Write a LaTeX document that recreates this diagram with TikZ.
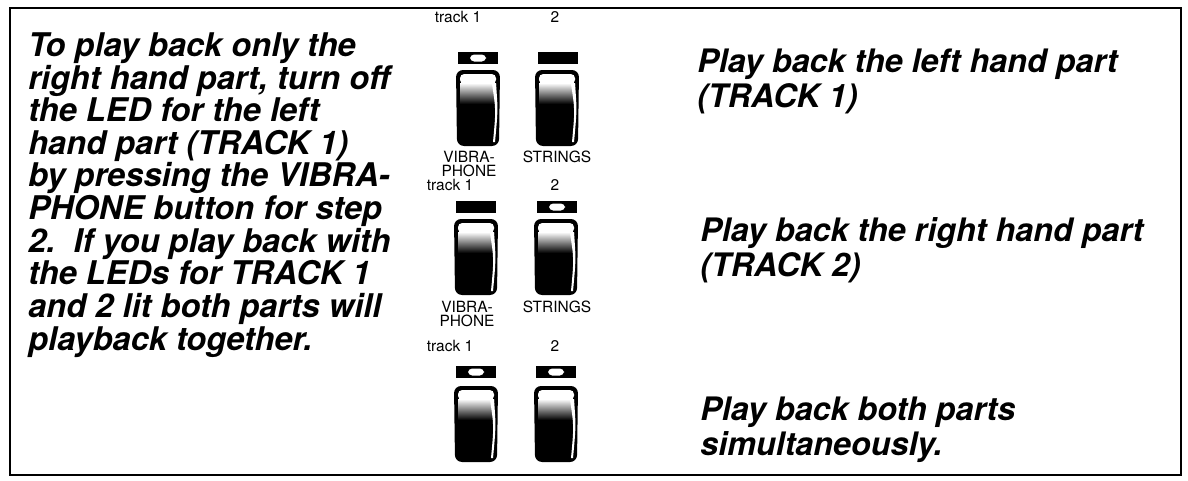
\documentclass[tikz,border=0pt]{standalone}
\usepackage{fontspec}
\setmainfont{TeX Gyre Heros}
\tikzset{
  say/.style={anchor=base west,align=left,inner sep=0pt,
    font=\fontsize{23.2}{23.2}\selectfont\bfseries\itshape},
  sayr/.style={say,font=\fontsize{23}{24.2}\selectfont\bfseries\itshape},
  tag/.style={anchor=base,inner sep=0pt,font=\fontsize{11}{12}\selectfont},
  pbutton/.pic={
    \fill[black,rounded corners=5] (-22,0) -- (22,0) -- (21,76) -- (-21,76) -- cycle;
    \fill[white,rounded corners=3] (-18,4) -- (18,4) -- (18,14) -- (-18,14) -- cycle;
    \shade[top color=white,bottom color=black] (-18,13) rectangle (18,34);
    \fill[white] (14,14) .. controls (18,40) .. (15,72) -- (17,72) .. controls (20,40) .. (18,14) -- cycle;
  },
  ledoff/.pic={
    \fill (-20,0) rectangle (20,12);
  },
  ledon/.pic={
    \fill (-20,0) rectangle (20,12);
    \fill[white,rounded corners=3] (-8,2.5) rectangle (8,9.5);
  },
}
\begin{document}
\begin{tikzpicture}[x=0.025cm,y=-0.025cm]
  \useasboundingbox (0,0) rectangle (1188,480);
  \draw[line width=1.6pt] (10,8) rectangle (1181,475);

  \node[say] (howto) at (28,350) {To play back only the\\right hand part, turn off\\the LED for the left\\hand part (TRACK 1)\\by pressing the VIBRA-\\PHONE button for step\\2.\ \ If you play back with\\the LEDs for TRACK 1\\and 2 lit both parts will\\playback together.};

  % track 1 only
  \node[tag] (t1a) at (458,22) {track 1};
  \node[tag] (t2a) at (555,22) {2};
  \pic at (478,52) {ledon};
  \pic at (558,52) {ledoff};
  \pic at (478,70) {pbutton};
  \pic at (557,70) {pbutton};
  \node[tag] (vba) at (469,162) {VIBRA-};
  \node[tag] (pha) at (469,176) {PHONE};
  \node[tag] (sta) at (557,162) {STRINGS};
  \node[sayr] (onea) at (697,107) {Play back the left hand part\\(TRACK 1)};

  % track 2 only
  \node[tag] (t1b) at (450,190) {track 1};
  \node[tag] (t2b) at (555,190) {2};
  \pic at (476,201) {ledoff};
  \pic at (557,201) {ledon};
  \pic at (476,219) {pbutton};
  \pic at (556,219) {pbutton};
  \node[tag] (vbb) at (467,312) {VIBRA-};
  \node[tag] (phb) at (467,326) {PHONE};
  \node[tag] (stb) at (557,312) {STRINGS};
  \node[sayr] (twob) at (700,276) {Play back the right hand part\\(TRACK 2)};

  % both tracks
  \node[tag] (t1c) at (450,351) {track 1};
  \node[tag] (t2c) at (555,351) {2};
  \pic at (476,366) {ledon};
  \pic at (556,366) {ledon};
  \pic at (476,386) {pbutton};
  \pic at (556,386) {pbutton};
  \node[sayr] (bothc) at (700,455) {Play back both parts\\simultaneously.};
\end{tikzpicture}
\end{document}
